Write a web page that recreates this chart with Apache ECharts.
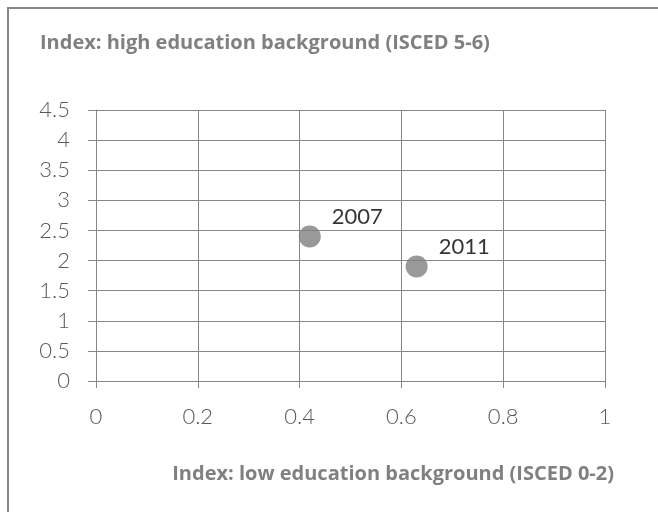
<!DOCTYPE html>
<html>
<head>
<meta charset="utf-8">
<script src="https://cdn.jsdelivr.net/npm/echarts@6/dist/echarts.min.js"></script>
<style>
  html, body { margin: 0; padding: 0; background: #fff; }
  #chart { width: 658px; height: 512px; }
</style>
</head>
<body>
<div id="chart"></div>
<script>
const years = ["2007", "2011"];
const lowEdu = [0.42, 0.63];
const highEdu = [2.4, 1.9];

const yTitle = "Index: high education background (ISCED 5-6)";
const xTitle = "Index: low education background (ISCED 0-2)";

const lineColor = "#878787";
const labelColor = "#595959";
const titleColor = "#808080";

const points = years.map((y, i) => [lowEdu[i], highEdu[i], y]);

const chart = echarts.init(document.getElementById("chart"));
const option = {
  animation: false,
  title: [
    {
      text: yTitle,
      left: 35,
      top: 28,
      textStyle: { color: titleColor, fontFamily: "Open Sans", fontWeight: "bold", fontSize: 20 },
    },
    {
      text: xTitle,
      right: 39,
      top: 459,
      textStyle: { color: titleColor, fontFamily: "Open Sans", fontWeight: "bold", fontSize: 20 },
    },
  ],
  graphic: [
    {
      type: "rect",
      shape: { x: 8, y: 8, width: 700, height: 600 },
      style: { fill: "none", stroke: lineColor, lineWidth: 2 },
      silent: true,
    },
  ],
  grid: { left: 96, top: 110, right: 53, bottom: 131 },
  xAxis: {
    type: "value",
    min: 0,
    max: 1,
    interval: 0.2,
    axisLine: { show: true, lineStyle: { color: lineColor } },
    axisTick: { show: true, length: 7, lineStyle: { color: lineColor } },
    splitLine: { show: true, lineStyle: { color: lineColor } },
    axisLabel: { color: labelColor, fontFamily: "Lato", fontWeight: 300, fontSize: 22, margin: 25 },
  },
  yAxis: {
    type: "value",
    min: 0,
    max: 4.5,
    interval: 0.5,
    axisLine: { show: true, lineStyle: { color: lineColor } },
    axisTick: { show: true, length: 8, lineStyle: { color: lineColor } },
    splitLine: { show: true, lineStyle: { color: lineColor } },
    axisLabel: { color: labelColor, fontFamily: "Lato", fontWeight: 300, fontSize: 22, margin: 26 },
  },
  series: [
    {
      type: "scatter",
      data: points,
      symbolSize: 22,
      itemStyle: { color: "#808080" },
      label: {
        show: true,
        formatter: (p) => p.data[2],
        position: "right",
        distance: 11,
        offset: [0, -20],
        color: "#000",
        fontFamily: "Lato",
        fontSize: 22,
      },
    },
  ],
};
chart.setOption(option);
</script>
</body>
</html>
